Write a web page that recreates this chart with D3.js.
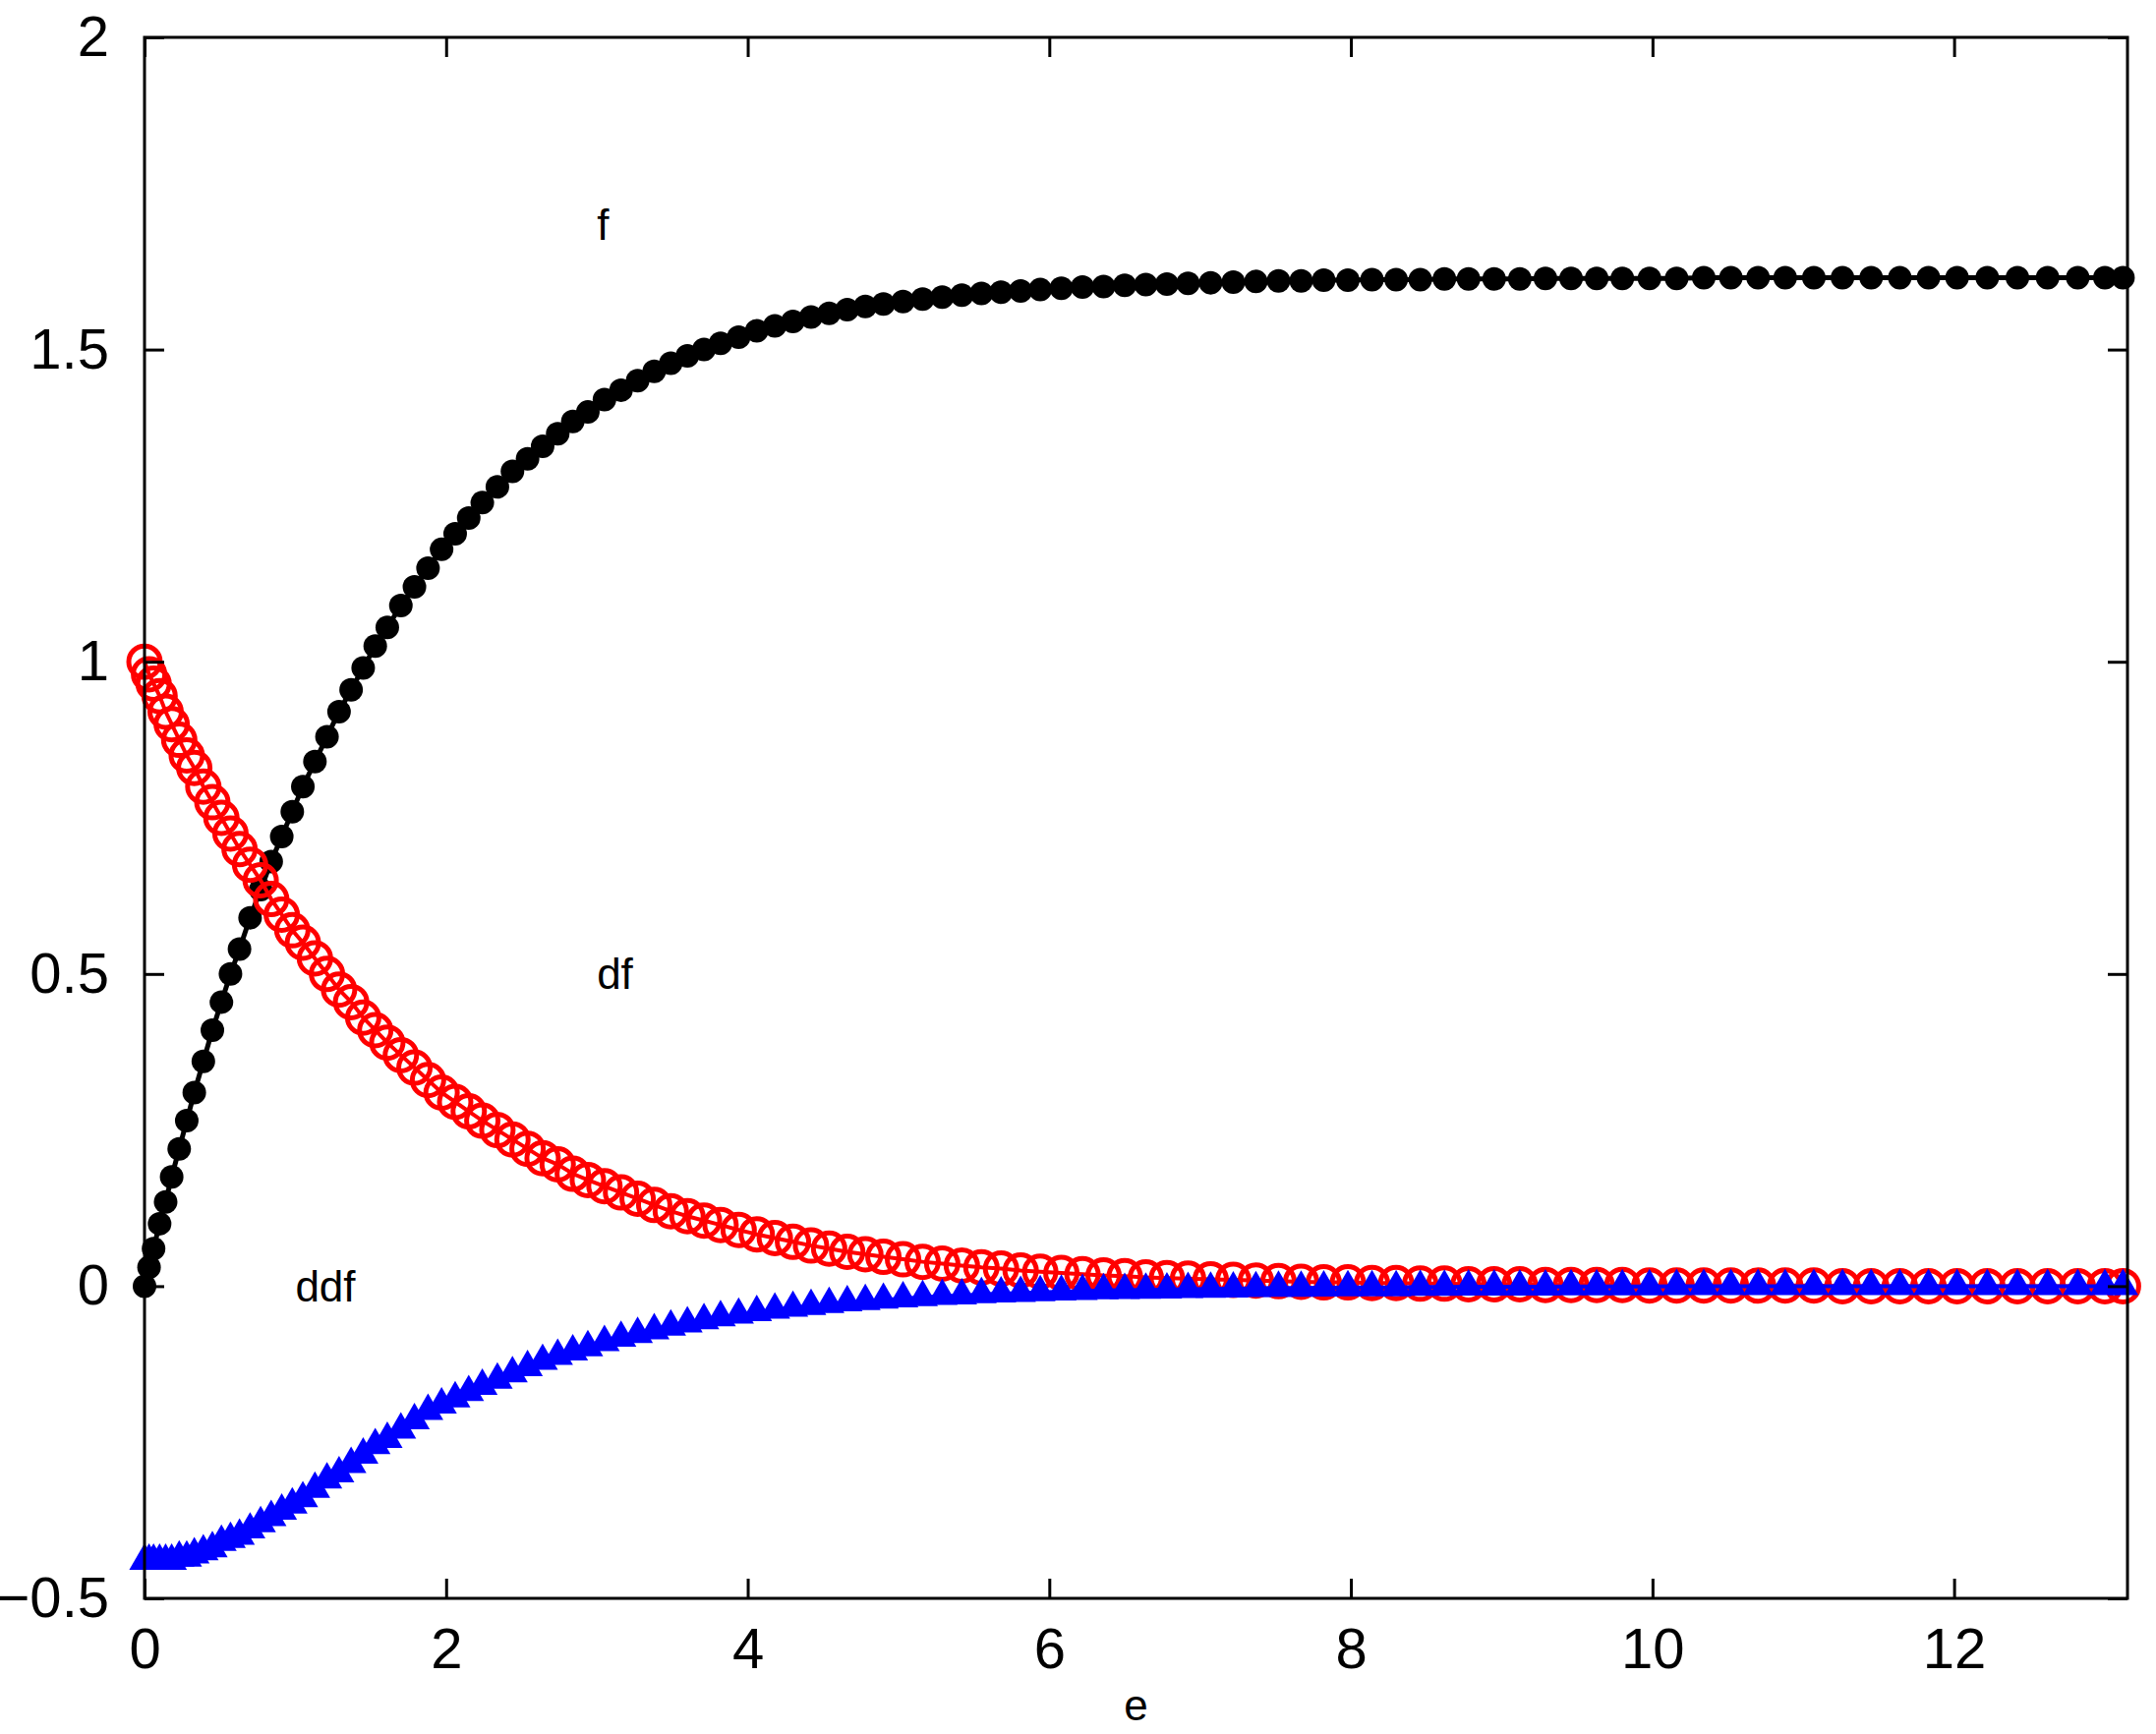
<!DOCTYPE html>
<html>
<head>
<meta charset="utf-8">
<script src="https://cdn.jsdelivr.net/npm/d3@7"></script>
<style>
  body { margin: 0; background: #fff; }
  text { font-family: "Liberation Sans", Arial, sans-serif; }
</style>
</head>
<body>
<svg id="chart" width="2193" height="1764"></svg>
<script>
// ---------------- data ----------------
var eta = [0,0.03,0.06,0.1,0.14,0.18,0.23,0.28,0.33,0.39,0.45,0.51,0.57,0.63,0.7,0.77,0.84,0.91,0.98,1.05,
  1.13,1.21,1.29,1.37,1.45,1.53,1.61,1.7,1.79,1.88,1.97,2.06,2.15,2.24,2.34,2.44,2.54,2.64,2.74,2.84,
  2.94,3.05,3.16,3.27,3.38,3.49,3.6,3.71,3.82,3.94,4.06,4.18,4.3,4.42,4.54,4.66,4.78,4.9,5.03,5.16,
  5.29,5.42,5.55,5.68,5.81,5.94,6.08,6.22,6.36,6.5,6.64,6.78,6.92,7.07,7.22,7.37,7.52,7.67,7.82,7.98,
  8.14,8.3,8.46,8.62,8.78,8.95,9.12,9.29,9.46,9.63,9.8,9.98,10.16,10.34,10.52,10.7,10.88,11.07,11.26,11.45,
  11.64,11.83,12.02,12.22,12.42,12.62,12.82,13.0,13.12];

var f = [0,0.03,0.06,0.10,0.135,0.175,0.22,0.265,0.31,0.36,0.41,0.455,0.50,0.54,0.59,0.635,0.68,0.72,0.76,0.80,
  0.84,0.88,0.92,0.955,0.99,1.025,1.055,1.09,1.12,1.15,1.18,1.205,1.23,1.255,1.28,1.305,1.325,1.345,1.365,1.385,
  1.40,1.42,1.435,1.45,1.465,1.478,1.49,1.50,1.51,1.52,1.53,1.538,1.545,1.552,1.558,1.564,1.569,1.573,1.577,1.581,
  1.584,1.587,1.59,1.592,1.594,1.596,1.598,1.60,1.601,1.603,1.604,1.605,1.606,1.607,1.608,1.609,1.61,1.61,1.611,1.611,
  1.612,1.612,1.612,1.613,1.613,1.613,1.613,1.614,1.614,1.614,1.614,1.614,1.614,1.615,1.615,1.615,1.615,1.615,1.615,1.615,
  1.615,1.615,1.615,1.615,1.615,1.615,1.615,1.615,1.615];

var df = [1.0,0.98,0.965,0.945,0.92,0.90,0.875,0.85,0.83,0.80,0.775,0.75,0.725,0.70,0.675,0.65,0.62,0.595,0.57,0.55,
  0.525,0.50,0.475,0.455,0.43,0.41,0.39,0.37,0.35,0.33,0.31,0.295,0.28,0.265,0.25,0.235,0.22,0.205,0.195,0.18,
  0.17,0.16,0.15,0.14,0.13,0.12,0.112,0.105,0.098,0.09,0.083,0.077,0.071,0.065,0.06,0.055,0.051,0.047,0.043,0.039,
  0.036,0.033,0.03,0.028,0.025,0.023,0.021,0.019,0.017,0.016,0.014,0.013,0.012,0.011,0.010,0.009,0.008,0.007,0.006,0.006,
  0.005,0.005,0.004,0.004,0.003,0.003,0.003,0.002,0.002,0.002,0.002,0.001,0.001,0.001,0.001,0.001,0.001,0.001,0,0,
  0,0,0,0,0,0,0,0,0];

var ddf = [-0.44,-0.44,-0.44,-0.44,-0.44,-0.44,-0.435,-0.435,-0.43,-0.425,-0.42,-0.41,-0.405,-0.40,-0.39,-0.38,-0.37,-0.36,-0.35,-0.34,
  -0.325,-0.31,-0.30,-0.285,-0.27,-0.255,-0.245,-0.23,-0.215,-0.20,-0.19,-0.18,-0.17,-0.16,-0.15,-0.14,-0.13,-0.12,-0.112,-0.105,
  -0.098,-0.09,-0.083,-0.077,-0.071,-0.065,-0.06,-0.055,-0.05,-0.046,-0.042,-0.038,-0.035,-0.032,-0.029,-0.026,-0.024,-0.022,-0.02,-0.018,
  -0.016,-0.015,-0.013,-0.012,-0.011,-0.010,-0.009,-0.008,-0.007,-0.0065,-0.006,-0.0055,-0.005,-0.0045,-0.004,-0.0035,-0.003,-0.003,-0.0025,-0.002,
  -0.002,-0.002,-0.0015,-0.0015,-0.001,-0.001,-0.001,-0.001,-0.0005,-0.0005,-0.0005,-0.0005,0,0,0,0,0,0,0,0,
  0,0,0,0,0,0,0,0,0];

var xTicks = [0, 2, 4, 6, 8, 10, 12];
var yTicks = [-0.5, 0, 0.5, 1, 1.5, 2];
var curveLabels = [ { text: "f", x: 3, y: 1.7 }, { text: "df", x: 3, y: 0.5 }, { text: "ddf", x: 1, y: 0 } ];

// ---------------- layout ----------------
var svg = d3.select("#chart");
var plotLeft = 147, plotRight = 2164, plotTop = 38, plotBottom = 1626;

var x = d3.scaleLinear().domain([0, 13.15]).range([plotLeft, plotRight]);
var y = d3.scaleLinear().domain([-0.5, 2]).range([plotBottom, plotTop]);

var fmt = function(d) { return String(d).replace("-", "\u2212"); };

var pts = eta.map(function(e, i) { return { x: e, f: f[i], df: df[i], ddf: ddf[i] }; });

var plot = svg.append("g");

// f: black line with filled dots
plot.append("path").datum(pts)
    .attr("d", d3.line().x(function(d) { return x(d.x); }).y(function(d) { return y(d.f); }))
    .attr("fill", "none").attr("stroke", "#000").attr("stroke-width", 5);
plot.selectAll("circle.f").data(pts).join("circle").attr("class", "f")
    .attr("cx", function(d) { return x(d.x); }).attr("cy", function(d) { return y(d.f); })
    .attr("r", 12).attr("fill", "#000");

// df: red open circles
plot.append("path").datum(pts)
    .attr("d", d3.line().x(function(d) { return x(d.x); }).y(function(d) { return y(d.df); }))
    .attr("fill", "none").attr("stroke", "#f00").attr("stroke-width", 4);
plot.selectAll("circle.df").data(pts).join("circle").attr("class", "df")
    .attr("cx", function(d) { return x(d.x); }).attr("cy", function(d) { return y(d.df); })
    .attr("r", 16).attr("fill", "none").attr("stroke", "#f00").attr("stroke-width", 5);

// ddf: blue filled triangles
var tri = d3.symbol().type(d3.symbolTriangle).size(420);
plot.append("path").datum(pts)
    .attr("d", d3.line().x(function(d) { return x(d.x); }).y(function(d) { return y(d.ddf); }))
    .attr("fill", "none").attr("stroke", "#00f").attr("stroke-width", 4);
plot.selectAll("path.ddf").data(pts).join("path").attr("class", "ddf")
    .attr("transform", function(d) { return "translate(" + x(d.x) + "," + y(d.ddf) + ")"; })
    .attr("d", tri).attr("fill", "#00f");

// box
svg.append("rect").attr("x", plotLeft).attr("y", plotTop)
   .attr("width", plotRight - plotLeft).attr("height", plotBottom - plotTop)
   .attr("fill", "none").attr("stroke", "#000").attr("stroke-width", 3);

// inward ticks on all four sides
var axB = svg.append("g").attr("transform", "translate(0," + plotBottom + ")")
   .call(d3.axisBottom(x).tickValues(xTicks).tickSizeInner(-20).tickSizeOuter(0).tickPadding(30).tickFormat(fmt));
var axT = svg.append("g").attr("transform", "translate(0," + plotTop + ")")
   .call(d3.axisTop(x).tickValues(xTicks).tickSizeInner(-20).tickSizeOuter(0).tickFormat(""));
var axL = svg.append("g").attr("transform", "translate(" + plotLeft + ",0)")
   .call(d3.axisLeft(y).tickValues(yTicks).tickSizeInner(-20).tickSizeOuter(0).tickPadding(36).tickFormat(fmt));
var axR = svg.append("g").attr("transform", "translate(" + plotRight + ",0)")
   .call(d3.axisRight(y).tickValues(yTicks).tickSizeInner(-20).tickSizeOuter(0).tickFormat(""));

[axB, axT, axL, axR].forEach(function(a) {
  a.select(".domain").remove();
  a.selectAll(".tick line").attr("stroke", "#000").attr("stroke-width", 3);
  a.selectAll("text").attr("fill", "#000").style("font-size", "58px").attr("font-family", null);
});

// curve labels
svg.selectAll("text.lbl").data(curveLabels).join("text").attr("class", "lbl")
   .attr("x", function(d) { return x(d.x); }).attr("y", function(d) { return y(d.y); })
   .attr("dy", "0.35em").style("font-size", "44px").text(function(d) { return d.text; });

// x label
svg.append("text").attr("x", (plotLeft + plotRight) / 2).attr("y", 1750)
   .attr("text-anchor", "middle").style("font-size", "44px").text("e");
</script>
</body>
</html>
